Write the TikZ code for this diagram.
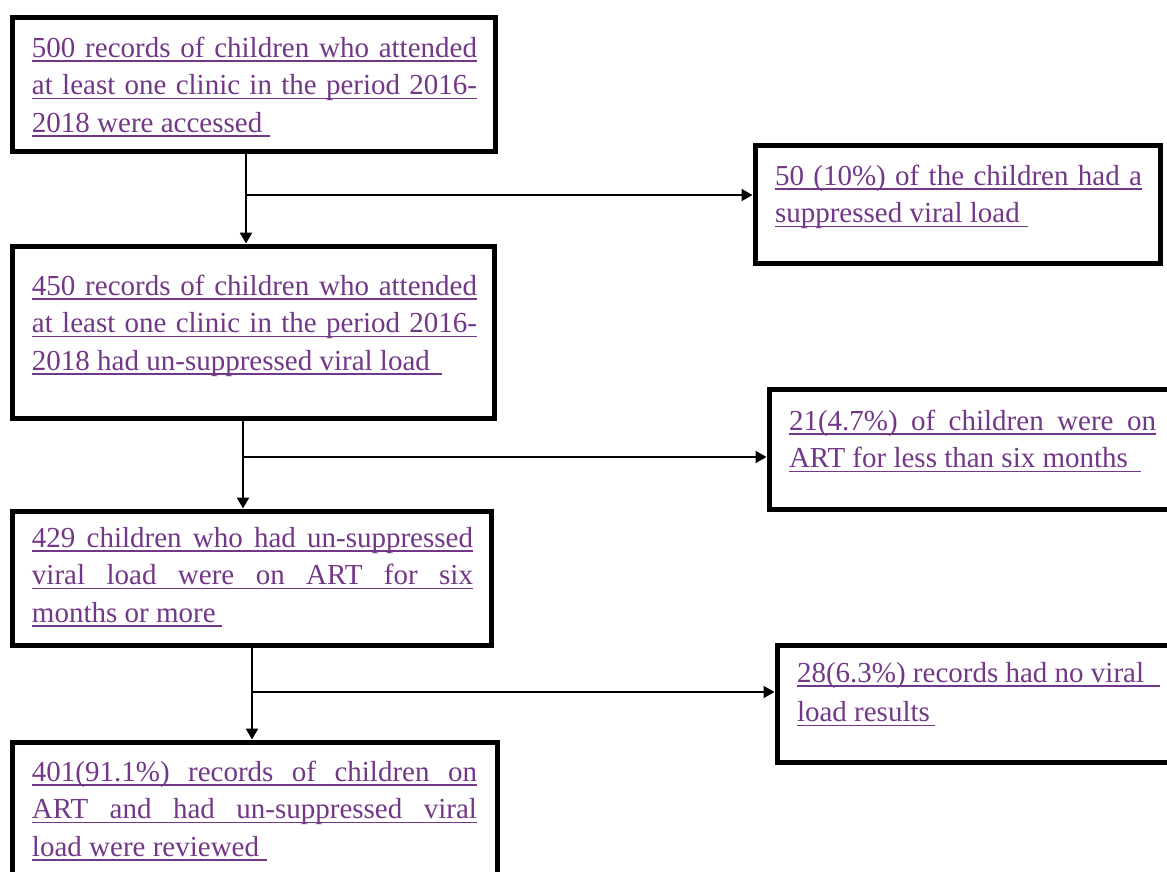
\documentclass[tikz,border=0pt]{standalone}
\usepackage{fontspec}
\setmainfont{Liberation Serif}
\usetikzlibrary{arrows.meta}
\definecolor{ink}{RGB}{115,55,135}
\newcommand\UL[3]{\leavevmode\rlap{\color{ink}\rule[-4.6pt]{#1}{1.3pt}}\makebox[#1][#2]{\rule{0pt}{24pt}#3}}
\newcommand\BoxText[4]{\parbox[c][#2][t]{#1}{\setlength\parindent{20pt}\vspace*{#3}#4}}
\tikzset{
  flowbox/.style={draw, line width=5pt, inner sep=0pt, anchor=north west, fill=white,
    text=ink, font=\fontsize{29pt}{37.5pt}\selectfont},
  conn/.style={line width=2.5pt, -{Triangle[length=11pt,width=12pt]}},
  branch/.style={line width=2pt, -{Triangle[length=11pt,width=12pt]}},
}
\begin{document}
\begin{tikzpicture}[x=1pt,y=-1pt]
\fill[white] (0,0) rectangle (1167,871);
\useasboundingbox (0,0) rectangle (1167,871);
\clip (0,0) rectangle (1167,871);

\node[flowbox] (B1) at (9.5,14.5) {\BoxText{483pt}{134pt}{16pt}{%
\UL{445pt}{s}{500 records of children who attended}\par
\UL{445pt}{s}{at least one clinic in the period 2016-}\par
\UL{238pt}{l}{2018 were accessed}}};

\node[flowbox] (B2) at (752.5,142.5) {\BoxText{405pt}{118pt}{16pt}{%
\UL{367pt}{s}{50 (10\%) of the children had a}\par
\UL{253pt}{l}{suppressed viral load}}};

\node[flowbox] (B3) at (9.5,243.5) {\BoxText{482pt}{172pt}{25pt}{%
\UL{445pt}{s}{450 records of children who attended}\par
\UL{445pt}{s}{at least one clinic in the period 2016-}\par
\UL{410pt}{l}{2018 had un-suppressed viral load}}};

\node[flowbox] (B4) at (766.5,386.5) {\BoxText{416pt}{120pt}{17pt}{%
\UL{367pt}{s}{21(4.7\%) of children were on}\par
\UL{352pt}{l}{ART for less than six months}}};

\node[flowbox] (B5) at (9.5,508.5) {\BoxText{479pt}{134pt}{12pt}{%
\UL{441pt}{s}{429 children who had un-suppressed}\par
\UL{441pt}{s}{viral load were on ART for six}\par
\UL{190pt}{l}{months or more}}};

\node[flowbox] (B6) at (774.5,642.5) {\BoxText{408pt}{117pt}{13pt}{\setlength\baselineskip{39.5pt}%
\UL{363pt}{l}{28(6.3\%) records had no viral}\par
\UL{138pt}{l}{load results}}};

\node[flowbox] (B7) at (9.5,739.5) {\BoxText{485pt}{160pt}{15pt}{%
\UL{445pt}{s}{401(91.1\%) records of children on}\par
\UL{445pt}{s}{ART and had un-suppressed viral}\par
\UL{235pt}{l}{load were reviewed}}};

\coordinate (j1) at (246,195);
\coordinate (j2) at (243,457);
\coordinate (j3) at (252,692);

\draw[conn] (B1.south -| j1) -- (B3.north -| j1);
\draw[branch] (j1) -- (j1 -| B2.west);
\draw[conn] (B3.south -| j2) -- (B5.north -| j2);
\draw[branch] (j2) -- (j2 -| B4.west);
\draw[conn] (B5.south -| j3) -- (B7.north -| j3);
\draw[branch] (j3) -- (j3 -| B6.west);
\end{tikzpicture}
\end{document}
